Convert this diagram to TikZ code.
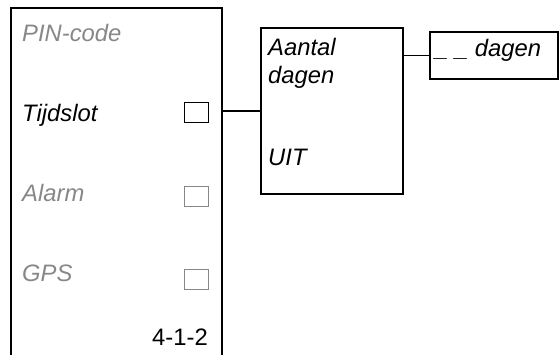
\documentclass[tikz,border=0pt]{standalone}
\usepackage{fontspec}
\setmainfont{Liberation Sans}
\begin{document}
\begin{tikzpicture}[x=1pt,y=-1pt,
  lbl/.style={anchor=base west,inner sep=0pt,font=\fontsize{23.8}{28}\selectfont\itshape},
  grey/.style={text=black!47},
  cbox/.style={draw,line width=1.8pt,minimum width=24pt,minimum height=20pt,inner sep=0pt,anchor=north west},
  frame/.style={draw,line width=2pt,inner sep=0pt,anchor=north west},
  link/.style={line width=1.8pt}]
\useasboundingbox (0,0) rectangle (559,354);
% left panel (open at bottom)
\node[inner sep=0pt,minimum width=211pt,minimum height=360pt,anchor=north west] (panel) at (11,8) {};
\draw[line width=2pt] (panel.south west) -- (panel.north west) -- (panel.north east) -- (panel.south east);
\node[lbl,grey] (pin) at (22,41) {PIN-code};
\node[lbl] (tijd) at (22,121) {Tijdslot};
\node[lbl,grey] (alarm) at (22,201) {Alarm};
\node[lbl,grey] (gps) at (22,281) {GPS};
\node[lbl,font=\fontsize{23.8}{28}\selectfont,anchor=base east] (code) at (208,345) {4-1-2};
\node[cbox] (cb1) at (183.5,101.5) {};
\node[cbox,draw=black!47] (cb2) at (183.5,185.5) {};
\node[cbox,draw=black!47] (cb3) at (183.5,268.5) {};
% middle box
\node[frame,minimum width=142pt,minimum height=166pt] (mid) at (259.5,27) {};
\node[lbl] (aantal) at (268,55) {Aantal};
\node[lbl] (dagen) at (268,83) {dagen};
\node[lbl] (uit) at (268,165) {UIT};
% right box
\node[frame,minimum width=128pt,minimum height=47pt] (rbox) at (429,31) {};
\node[lbl] (rtext) at (435,56) {\_ \_ dagen};
% connectors
\draw[link] (mid.west) -- (mid.west -| panel.east);
\draw[link] (rbox.west) -- (rbox.west -| mid.east);
\end{tikzpicture}
\end{document}
